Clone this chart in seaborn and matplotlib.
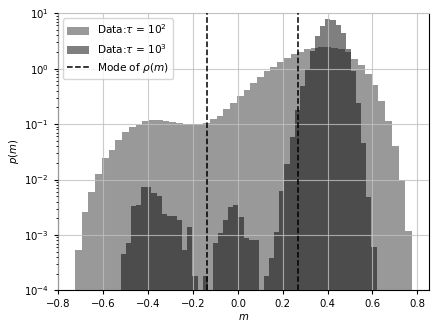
import numpy as np
import matplotlib
matplotlib.use("Agg")
import matplotlib.pyplot as plt
import seaborn as sns

# ── Data (density histograms, 50 bins each) ──
# tau = 10^2 : bin range and densities
light_range = (-0.727, 0.777)
light_dens = [
    5.3e-4, 2.6e-3, 6.0e-3, 0.0128, 0.0245, 0.034, 0.052, 0.072, 0.089, 0.098,
    0.112, 0.120, 0.120, 0.115, 0.109, 0.104, 0.100, 0.100, 0.102, 0.105,
    0.123, 0.142, 0.187, 0.24, 0.32, 0.41, 0.55, 0.71, 0.91, 1.09,
    1.32, 1.58, 1.81, 2.0, 2.3, 2.4, 2.5, 2.5, 2.4, 2.23,
    2.03, 1.52, 1.16, 0.80, 0.50, 0.26, 0.115, 0.041, 0.010, 1.2e-3,
]

# tau = 10^3 : bin range and densities
dark_range = (-0.522, 0.618)
dark_dens = [
    4.5e-4, 7.2e-4, 3.3e-3, 3.5e-3, 7.2e-3, 7.2e-3, 5.6e-3, 5.1e-3, 2.4e-3, 2.2e-3,
    2.2e-3, 1.86e-3, 5.4e-4, 1.4e-3, 1.8e-4, 0.0, 1.8e-4, 0.0, 7.2e-4, 1.07e-3,
    1.86e-3, 3.2e-3, 3.4e-3, 2.1e-3, 8.7e-4, 8.1e-4, 8.0e-4, 0.0, 1.8e-4, 3.8e-4,
    1.15e-3, 6.2e-3, 0.019, 0.058, 0.18, 0.48, 1.0, 2.08, 3.9, 5.9,
    8.0, 7.6, 6.2, 4.4, 2.3, 0.91, 0.24, 0.046, 4.8e-3, 6.0e-4,
]

# modes of p(m)
mode_positions = [-0.136, 0.266]

x_ticks = [-0.8, -0.6, -0.4, -0.2, 0.0, 0.2, 0.4, 0.6, 0.8]

N_BINS = 50


def centers(rng, n):
    edges = np.linspace(rng[0], rng[1], n + 1)
    return 0.5 * (edges[:-1] + edges[1:])


fig, ax = plt.subplots(figsize=(4.36, 3.30), dpi=100)
fig.subplots_adjust(left=0.133, right=0.984, top=0.96, bottom=0.12)

sns.histplot(
    x=centers(light_range, N_BINS), weights=light_dens,
    bins=N_BINS, binrange=light_range,
    color="#999999", alpha=1.0, linewidth=0, edgecolor="none",
    label=r"Data:$\tau$ = 10$^2$", ax=ax,
)
sns.histplot(
    x=centers(dark_range, N_BINS), weights=dark_dens,
    bins=N_BINS, binrange=dark_range,
    color="black", alpha=0.5, linewidth=0, edgecolor="none",
    label=r"Data:$\tau$ = 10$^3$", ax=ax,
)

for i, m in enumerate(mode_positions):
    ax.axvline(m, color="black", linestyle="--", linewidth=1.1,
               label=r"Mode of $\rho(m)$" if i == 0 else None, zorder=4)

ax.set_yscale("log")
ax.set_ylim(1e-4, 10)
ax.set_xlim(-0.802, 0.852)
ax.set_xticks(x_ticks)
ax.tick_params(labelsize=7.3, length=3)
ax.tick_params(which="minor", length=1.5)

ax.set_xlabel(r"$m$", fontsize=7.3, labelpad=2)
ax.set_ylabel(r"$p(m)$", fontsize=7.3, labelpad=2)

ax.set_axisbelow(False)
ax.grid(True, which="major", color="#c0c0c0", linewidth=0.8, alpha=0.8, zorder=3)
ax.spines["top"].set_color("#cccccc")

# legend order: the two histograms first, then the mode line
handles, labels = ax.get_legend_handles_labels()
order = [1, 2, 0]
ax.legend([handles[i] for i in order], [labels[i] for i in order],
          loc="upper left", fontsize=7.6, framealpha=0.8, edgecolor="#cccccc")

fig.savefig("out.png", dpi=100)
